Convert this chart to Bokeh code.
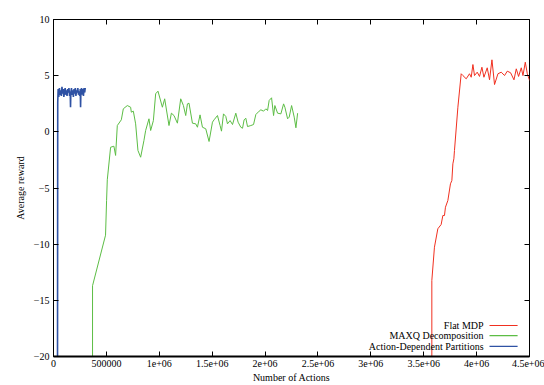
from bokeh.plotting import figure
from bokeh.models import Range1d, FixedTicker, LinearAxis, CustomJSTickFormatter, BoxAnnotation
from bokeh.core.properties import value
from bokeh.embed import file_html
from bokeh.resources import INLINE

# ---------------- data ----------------
flat_x = [3576700, 3576700, 3601400, 3633500, 3664800, 3680900, 3696000, 3705500, 3728200,
          3752800, 3766100, 3775600, 3785000, 3790700, 3822900, 3854200, 3870300, 3901500,
          3932800, 3948900, 3965000, 3980100, 4005700, 4027500, 4050200, 4069100, 4100400,
          4122200, 4144900, 4169500, 4201700, 4232950, 4264200, 4289800, 4321000, 4353200,
          4375000, 4396800, 4422300, 4438400, 4460200, 4479200, 4501000]
flat_y = [-20, -13.23, -10.27, -8.63, -8.25, -7.45, -7.45, -6.71, -6.11,
          -4.63, -4.33, -2.85, -2.40, -1.66, 2.19, 5.17, 5.01, 4.72,
          5.17, 4.86, 5.99, 5.01, 5.31, 4.93, 5.75, 4.86, 5.70,
          4.63, 6.41, 4.21, 5.17, 5.31, 5.01, 5.40, 5.26, 4.63,
          5.61, 4.93, 5.70, 5.01, 6.20, 5.17, 4.57]

maxq_x = [369000, 369000, 492000, 501900, 508500, 539800, 571000, 587100, 603200, 641100,
          660000, 697900, 729200, 735800, 754700, 776500, 798300, 823900, 855100, 871200,
          902500, 918600, 944100, 965900, 987700, 1029300, 1051100, 1091900, 1114600, 1139200,
          1171400, 1202650, 1228200, 1250000, 1266100, 1281250, 1313450, 1344700, 1360800, 1385400,
          1408100, 1439400, 1470600, 1502800, 1518000, 1550200, 1574800, 1588100, 1607000, 1628800,
          1644900, 1669500, 1692300, 1723500, 1745300, 1770800, 1787000, 1802100, 1818200, 1834300,
          1865500, 1891100, 1912900, 1944100, 1960200, 1985800, 2007600, 2023700, 2038800, 2061600,
          2080500, 2092800, 2118400, 2149600, 2175200, 2187500, 2213100, 2228200, 2250900, 2275600,
          2291700, 2307800]
maxq_y = [-20, -13.7, -9.2, -6.1, -4.27, -1.37, -1.28, -2.1, 0.56, 1.07,
          2.05, 2.34, 2.19, 1.75, 1.84, 0.71, -1.66, -2.26, -0.77, 0.12,
          1.16, 0.12, 1.0, 3.39, 3.62, 2.19, 2.94, 0.56, 1.66, 1.45,
          0.77, 2.94, 2.34, 1.45, 2.49, 2.55, 0.77, 0.71, 0.41, 1.51,
          0.41, 0.27, -0.86, 0.86, 1.07, 1.45, 0.56, 0.06, 1.60, 1.37,
          0.71, 1.0, 0.65, 1.66, 0.86, 0.41, 0.32, 1.07, 1.21, 0.47,
          0.56, 0.65, 1.54, 1.84, 1.96, 1.84, 2.05, 1.90, 2.79, 3.03,
          1.45, 2.34, 1.66, 1.60, 2.49, 2.19, 1.16, 1.31, 2.34, 1.31,
          0.36, 1.66]

adp_x = [38000, 40000, 44000, 50000, 56000, 62000, 68000, 74000, 80000, 86000,
         92000, 98000, 104000, 110000, 116000, 122000, 128000, 134000, 140000, 146000,
         152000, 158000, 161000, 164000, 170000, 176000, 182000, 188000, 194000, 200000,
         206000, 212000, 218000, 224000, 230000, 236000, 242000, 248000, 253000, 256000,
         259000, 265000, 271000, 277000, 283000, 289000, 295000, 300000]
adp_y = [-20, 2.6, 3.8, 3.1, 3.9, 3.3, 3.7, 3.2, 4.0, 3.4,
         3.8, 3.1, 3.6, 3.9, 3.3, 3.7, 3.2, 3.8, 3.5, 3.9,
         3.2, 3.6, 2.2, 3.5, 3.9, 3.3, 3.7, 3.1, 3.8, 3.4,
         3.9, 3.2, 3.7, 3.5, 3.9, 3.3, 3.6, 3.2, 3.8, 2.2,
         3.6, 3.9, 3.3, 3.8, 3.2, 3.9, 3.5, 3.9]

series_names = ["Flat MDP", "MAXQ Decomposition", "Action-Dependent Partitions"]
series_colors = ["#f03020", "#5cbd45", "#2f52a4"]

x_ticks = [0, 500000, 1000000, 1500000, 2000000, 2500000, 3000000, 3500000, 4000000, 4500000]
x_tick_labels = ["0", "500000", "1e+06", "1.5e+06", "2e+06", "2.5e+06", "3e+06", "3.5e+06", "4e+06", "4.5e+06"]
y_ticks = [-20, -15, -10, -5, 0, 5, 10]

X_MIN, X_MAX = 0, 4500000
Y_MIN, Y_MAX = -20, 10

FONT = "Liberation Serif"

# ---------------- figure ----------------
p = figure(width=544, height=385, output_backend="svg", toolbar_location=None,
           x_range=Range1d(X_MIN, X_MAX), y_range=Range1d(Y_MIN, Y_MAX),
           min_border_left=53, min_border_top=19, min_border_right=15, min_border_bottom=29)

p.grid.visible = False
p.outline_line_color = "black"
p.outline_line_width = 1
p.background_fill_color = "white"
p.border_fill_color = "white"

def style_axis(ax, labels=True):
    ax.axis_line_color = "black"
    ax.major_tick_in = 5
    ax.major_tick_out = 0
    ax.minor_tick_line_color = None
    ax.major_tick_line_color = "black"
    ax.major_label_text_font = FONT
    ax.major_label_text_font_size = "10px"
    ax.major_label_text_color = "black"
    ax.axis_label_text_font = FONT
    ax.axis_label_text_font_size = "10px"
    ax.axis_label_text_font_style = "normal"
    ax.axis_label_text_color = "black"
    if not labels:
        ax.formatter = CustomJSTickFormatter(code="return ''")
        ax.major_label_standoff = 0
        ax.axis_line_color = None

xa = p.xaxis[0]
xa.ticker = FixedTicker(ticks=x_ticks)
xa.major_label_overrides = {t: s for t, s in zip(x_ticks, x_tick_labels)}
xa.axis_label = "Number of Actions"
style_axis(xa)
xa.axis_line_width = 2
xa.major_label_standoff = 3
xa.axis_label_standoff = 2

ya = p.yaxis[0]
ya.ticker = FixedTicker(ticks=y_ticks)
ya.axis_label = "Average reward"
style_axis(ya)
ya.major_label_standoff = 4
ya.axis_label_standoff = 5

top = LinearAxis(ticker=FixedTicker(ticks=x_ticks))
style_axis(top, labels=False)
p.add_layout(top, "above")

right = LinearAxis(ticker=FixedTicker(ticks=y_ticks))
style_axis(right, labels=False)
p.add_layout(right, "right")

# outer page frame (left and top edges visible, as in the scanned figure)
frame_box = BoxAnnotation(left=8, top=6, right=900, bottom=900,
                          left_units="canvas", right_units="canvas",
                          top_units="canvas", bottom_units="canvas",
                          fill_alpha=0, line_color="black", line_width=1, level="overlay")
p.add_layout(frame_box)

# ---------------- series ----------------
p.line(flat_x, flat_y, line_color=series_colors[0], line_width=1)
p.line(maxq_x, maxq_y, line_color=series_colors[1], line_width=1)
p.line(adp_x, adp_y, line_color=series_colors[2], line_width=1.6)

# ---------------- legend (gnuplot style: text then sample) ----------------
span_x = X_MAX - X_MIN
span_y = Y_MAX - Y_MIN
text_x = X_MAX - 0.0965 * span_x
seg_x0 = X_MAX - 0.0840 * span_x
seg_x1 = X_MAX - 0.0250 * span_x
rows_y = [Y_MIN + 0.092 * span_y, Y_MIN + 0.062 * span_y, Y_MIN + 0.030 * span_y]

p.text(x=[text_x] * 3, y=rows_y, text=series_names, text_align="right",
       text_baseline="middle", text_font=value(FONT), text_font_size="10px",
       text_color="black")
p.segment(x0=[seg_x0] * 3, y0=rows_y, x1=[seg_x1] * 3, y1=rows_y,
          line_color=series_colors, line_width=1.2)

open("out.html", "w").write(file_html(p, INLINE))
